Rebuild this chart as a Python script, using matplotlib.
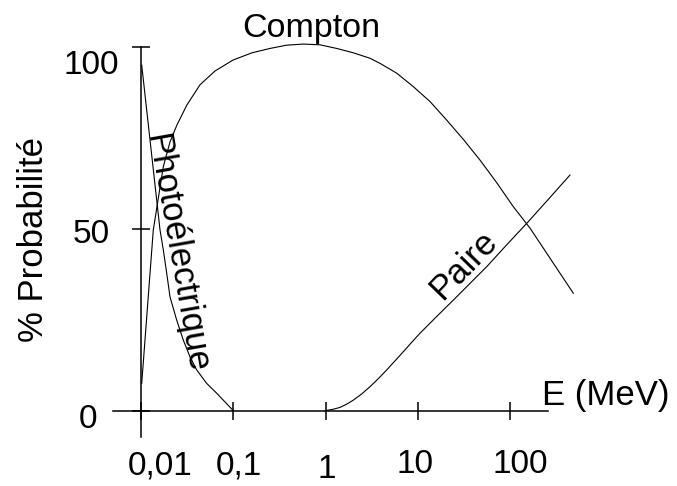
import matplotlib.pyplot as plt
from matplotlib.transforms import ScaledTranslation

plt.rcParams['font.family'] = ['Liberation Sans', 'DejaVu Sans']

# energy (MeV) and probability (%)
photo_e = [0.01018, 0.01607, 0.01745, 0.01899, 0.02062, 0.02437, 0.02873,
           0.03396, 0.04013, 0.0515, 0.0661, 0.1]
photo_p = [95.0, 49.7, 44.2, 37.8, 31.3, 24.9, 19.4, 14.8, 11.2, 7.5, 4.8, 0.0]

compton_e = [0.01018, 0.01359, 0.01745, 0.02062, 0.02455, 0.03151, 0.04357,
             0.06335, 0.09925, 0.1594, 0.2498, 0.3788, 0.5733, 0.8695, 1.319,
             1.996, 3.027, 3.886, 5.893, 8.917, 13.52, 20.51, 31.04, 47.09,
             71.41, 108.0, 163.9, 248.5, 346.3, 482.8]
compton_p = [7.5, 49.7, 67.1, 73.9, 78.6, 84.1, 89.6, 93.4, 96.4, 98.4, 99.6,
             100.5, 100.8, 100.6, 99.6, 98.4, 96.9, 95.5, 92.8, 89.1, 85.0,
             79.9, 74.6, 68.9, 62.7, 56.1, 50.2, 43.3, 37.8, 32.3]

pair_e = [0.985, 1.212, 1.432, 1.693, 1.996, 2.461, 3.027, 3.724, 4.592,
          5.648, 6.947, 8.566, 10.54, 15.98, 24.18, 36.68, 55.65, 91.64,
          151.0, 258.7, 444.6]
pair_p = [0.0, 0.4, 0.9, 1.8, 2.9, 4.6, 6.6, 8.8, 11.2, 13.7, 16.2, 18.8,
          21.3, 25.9, 30.4, 35.0, 39.6, 45.6, 51.5, 58.1, 64.8]

x_ticks = [0.01, 0.1, 1, 10, 100]
x_labels = ['0,01', '0,1', '1', '10', '100']
y_ticks = [0, 50, 100]
y_labels = ['0', '50', '100']

# small hand-drawn shifts of the tick labels (pixels: right, down)
x_shift = [(19, 1), (6, 1), (1, 4), (-3, -1), (10.5, -1)]
y_shift = [(-2.5, 17), (1, 14), (1.5, 27)]

W, H = 677, 486
fig = plt.figure(figsize=(W / 100, H / 100), dpi=100)
ax = fig.add_axes([100 / W, 1 - 440 / H, 500 / W, 410 / H])

for e, p in [(photo_e, photo_p), (compton_e, compton_p), (pair_e, pair_p)]:
    ax.plot(e, p, color='black', lw=0.8)

ax.set_xscale('log')
ax.set_xlim(0.003596, 939.6)
ax.set_ylim(-8.06, 104.67)

for s in ['top', 'right']:
    ax.spines[s].set_visible(False)
ax.spines['left'].set_position(('data', 0.01))
ax.spines['left'].set_bounds(-7.23, 100)
ax.spines['bottom'].set_position(('data', 0))
ax.spines['bottom'].set_bounds(0.00497, 257)
for s in ['left', 'bottom']:
    ax.spines[s].set_linewidth(1.1)

ax.minorticks_off()
ax.tick_params(direction='inout', length=12.96, width=1.1, labelsize=24)
ax.tick_params(axis='x', pad=39.1)
ax.tick_params(axis='y', pad=30.2)

ax.set_xticks(x_ticks)
ax.set_xticklabels(x_labels)
ax.set_yticks(y_ticks)
ax.set_yticklabels(y_labels)

for lab, (dx, dy) in zip(ax.get_xticklabels(), x_shift):
    lab.set_va('baseline')
    lab.set_transform(lab.get_transform() +
                      ScaledTranslation(dx / 100, -dy / 100, fig.dpi_scale_trans))
for lab, (dx, dy) in zip(ax.get_yticklabels(), y_shift):
    lab.set_ha('center')
    lab.set_va('baseline')
    lab.set_transform(lab.get_transform() +
                      ScaledTranslation(dx / 100, -dy / 100, fig.dpi_scale_trans))

fig.text(311.5 / W, 1 - 37 / H, 'Compton', ha='center', va='baseline', fontsize=24.5)
fig.text(542 / W, 1 - 405 / H, 'E (MeV)', ha='left', va='baseline', fontsize=25)
fig.text(43 / W, 1 - 240 / H, '% Probabilité', rotation=90,
         rotation_mode='anchor', ha='center', va='baseline', fontsize=25)
fig.text(166.5 / W, 1 - 255 / H, 'Photoélectrique', rotation=-80,
         rotation_mode='anchor', ha='center', va='baseline', fontsize=25)
fig.text(464 / W, 1 - 265 / H, 'Paire', rotation=46,
         rotation_mode='anchor', ha='center', va='center', fontsize=25)

fig.savefig('out.png', dpi=100)
